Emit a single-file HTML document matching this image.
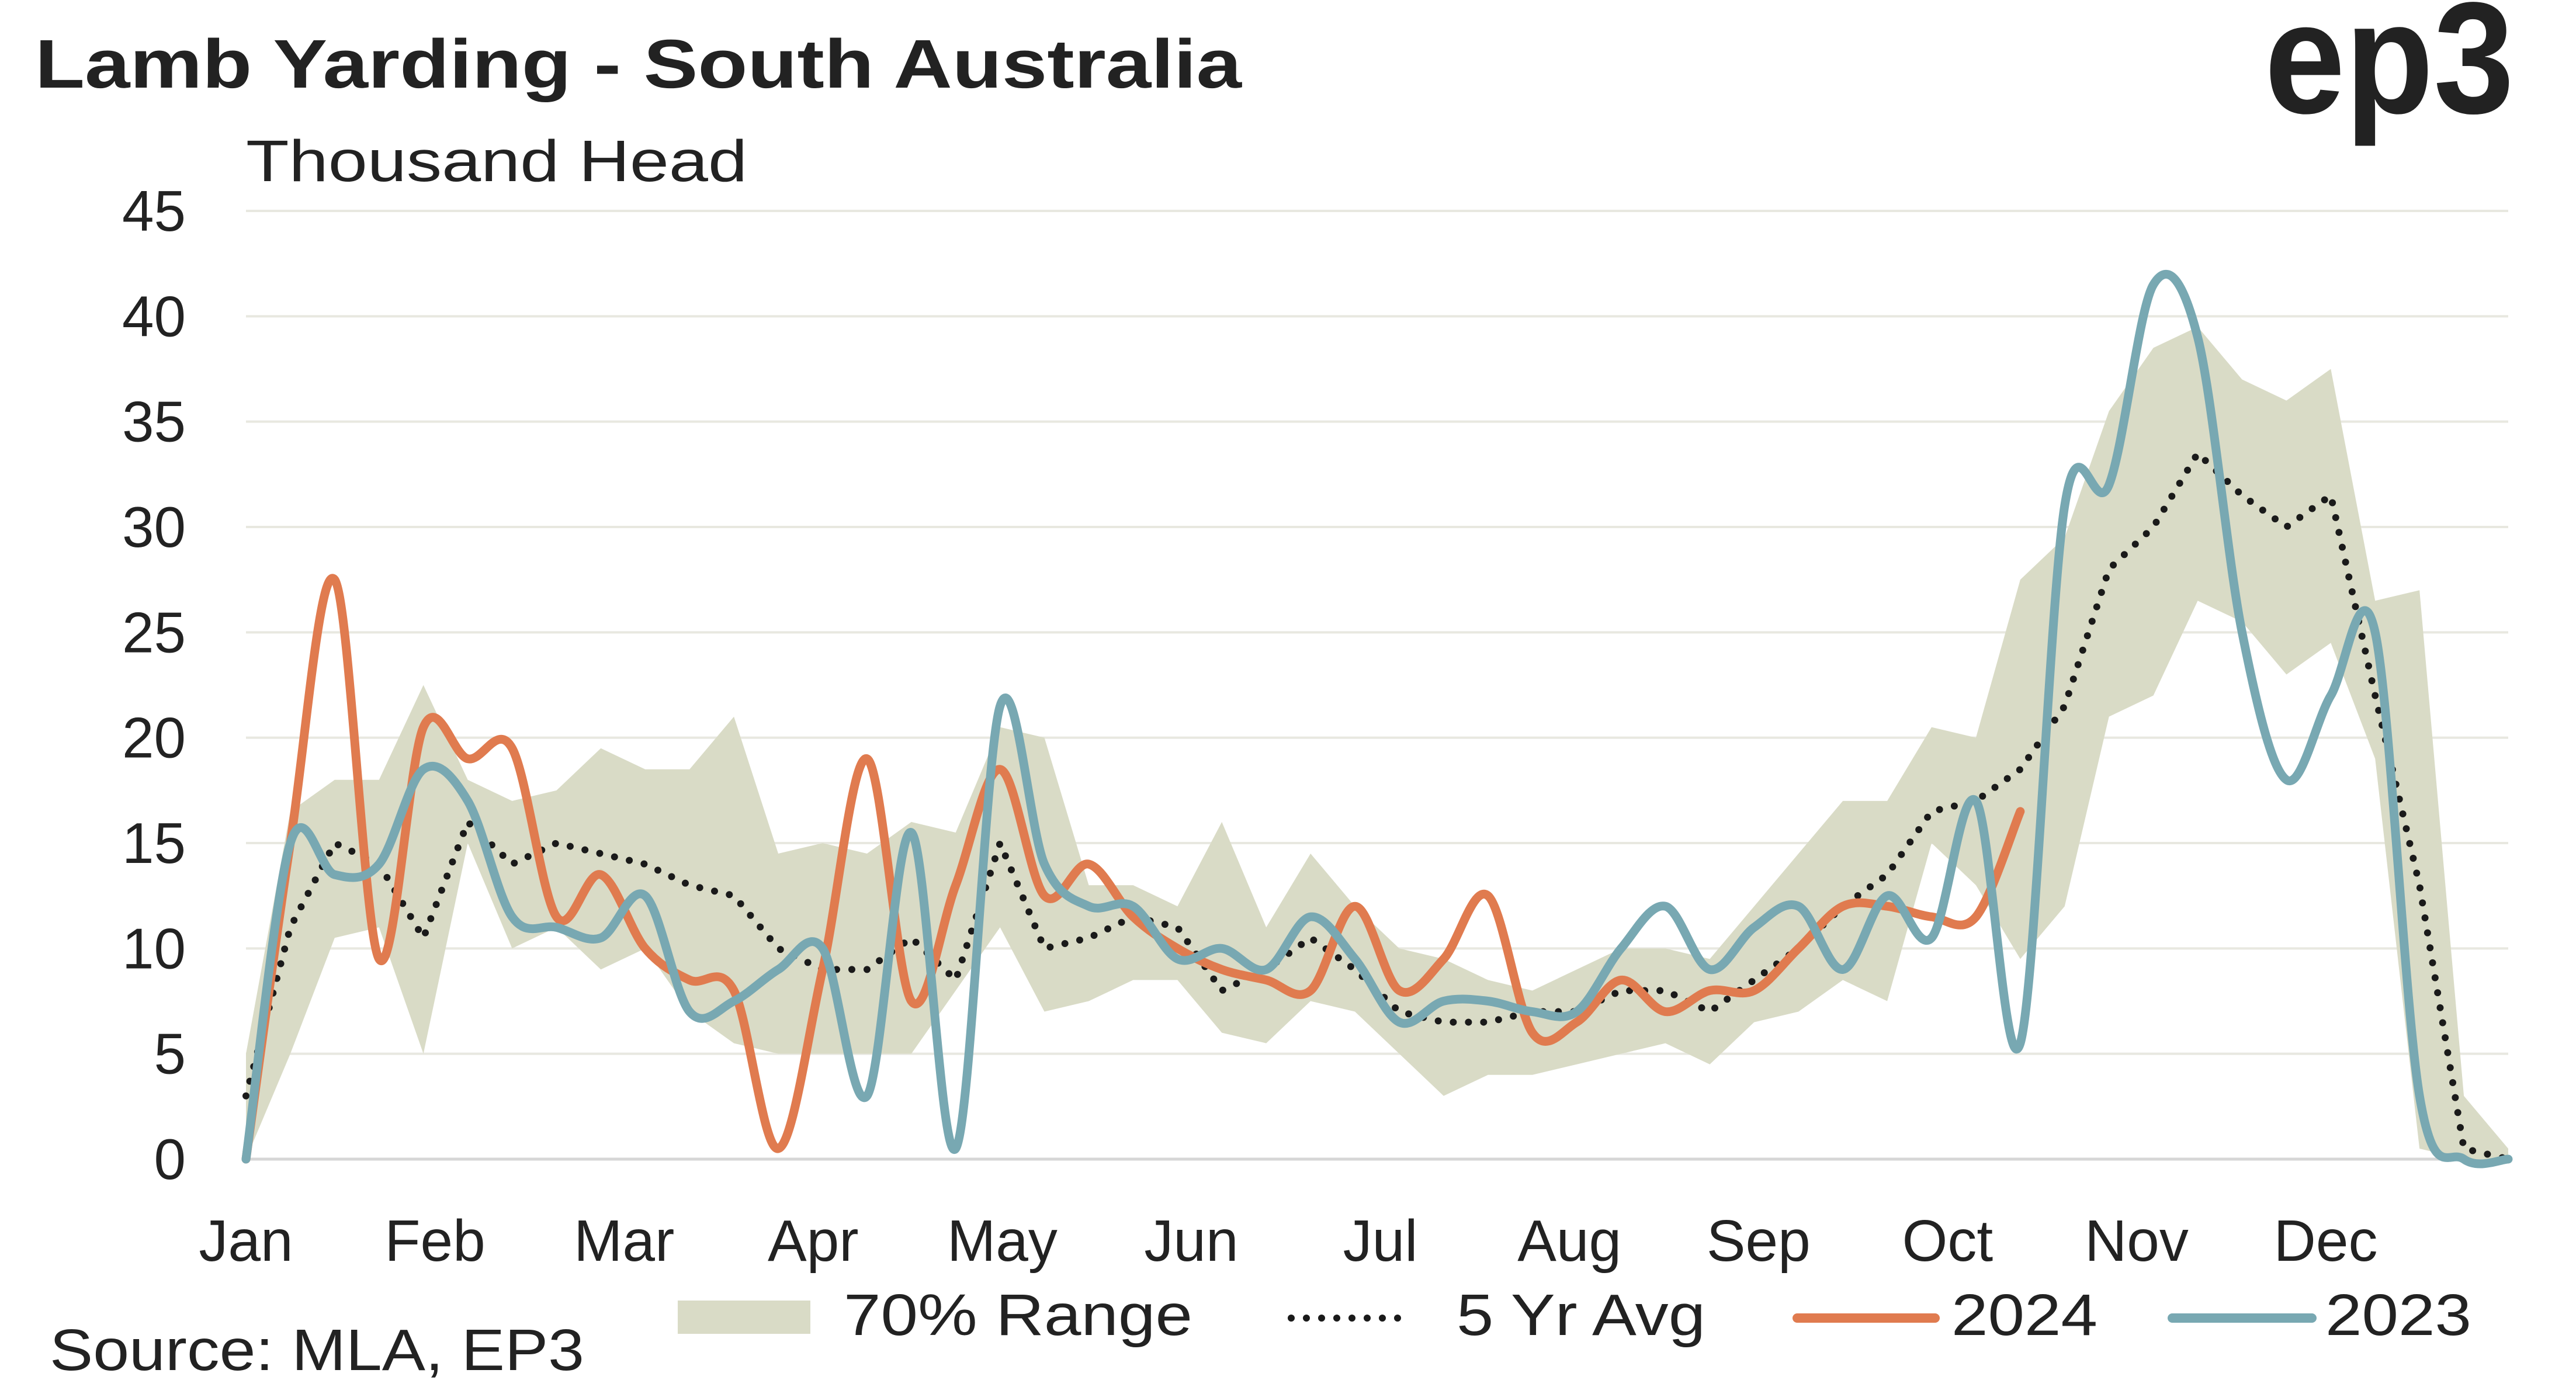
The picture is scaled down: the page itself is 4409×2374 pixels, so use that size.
<!DOCTYPE html>
<html><head><meta charset="utf-8"><style>
html,body{margin:0;padding:0;background:#fff;}
svg{display:block;}
text{font-family:"Liberation Sans",sans-serif;fill:#222;}
</style></head><body>
<svg id="chart" width="4409" height="2374" viewBox="0 0 4409 2374">
<text x="60" y="150" font-size="118" font-weight="bold" fill="#1e1e1e" textLength="2065" lengthAdjust="spacingAndGlyphs">Lamb Yarding - South Australia</text>
<text x="3876" y="193" font-size="272" font-weight="bold" textLength="427" lengthAdjust="spacingAndGlyphs" fill="#2b2b2b">ep3</text>
<text x="421" y="310" font-size="100" fill="#2a2a2a" textLength="858" lengthAdjust="spacingAndGlyphs">Thousand Head</text>
<g id="grid"></g>
<g id="marks"></g>
<g id="xlabels"></g>
<g>
<rect x="1160" y="2226" width="227" height="57" fill="#d9dbc6"/>
<text x="1444" y="2285" font-size="100" textLength="597" lengthAdjust="spacingAndGlyphs">70% Range</text>
<line x1="2210" y1="2256" x2="2417" y2="2256" stroke="#1a1a1a" stroke-width="12" stroke-linecap="round" stroke-dasharray="0 26"/>
<text x="2493" y="2285" font-size="100" textLength="426" lengthAdjust="spacingAndGlyphs">5 Yr Avg</text>
<line x1="3076" y1="2256" x2="3312" y2="2256" stroke="#e07b4f" stroke-width="16" stroke-linecap="round"/>
<text x="3340" y="2285" font-size="100" textLength="250" lengthAdjust="spacingAndGlyphs">2024</text>
<line x1="3718" y1="2256" x2="3957" y2="2256" stroke="#78a8b2" stroke-width="16" stroke-linecap="round"/>
<text x="3980" y="2285" font-size="100" textLength="250" lengthAdjust="spacingAndGlyphs">2023</text>
</g>
<text x="85" y="2345" font-size="100" textLength="915" lengthAdjust="spacingAndGlyphs">Source: MLA, EP3</text>
</svg>
<script>
const months = ["Jan","Feb","Mar","Apr","May","Jun","Jul","Aug","Sep","Oct","Nov","Dec"];
const yTicks = [0,5,10,15,20,25,30,35,40,45];
const rangeLow = [0,5,10.5,11,5,15,10,11,9,10,7,5.5,5,5,5,5,8,11,7,7.5,8.5,8.5,6,5.5,7.5,7,5,3,4,4,4.5,5,5.5,4.5,6.5,7,8.5,7.5,15,13,9.5,12,21,22,26.5,25.5,23,24.5,19,0.5,0,0];
const rangeHigh = [5,16.5,18,18,22.5,18,17,17.5,19.5,18.5,18.5,21,14.5,15,14.5,16,15.5,20.5,20,13,13,12,16,11,14.5,12,10,9.5,8.5,8,9,10,10,9.5,12,14.5,17,17,20.5,20,27.5,29.5,35.5,38.5,39.5,37,36,37.5,26.5,27,3,0.5];
const avg5 = [3,11,15,14,10.5,16,14,15,14.5,14,13,12.5,10,9,9,10.5,8.5,15,10,10.5,11.5,11,8,9,10.5,9,7,6.5,6.5,7,7,8,8,7,8.5,10,12,13.5,16.5,17,18.5,21.5,28,30,33.5,31.5,30,31.5,22,13,0.5,0];
const y2024 = [0,15,27.5,9.5,20.5,19,19.5,11.5,13.5,10,8.5,8,0.5,9,19,7.5,13,18.5,12.5,14,11.5,10,9,8.5,8,12,8,9.5,12.5,6,6.5,8.5,7,8,8,10,12,12,11.5,11.5,16.5];
const y2023 = [0,15,13.5,14,18.5,17,11.5,11,10.5,12.5,7,7.5,9,10,3,15.5,0.5,21.5,14,12,12,9.5,10,9,11.5,9.5,6.5,7.5,7.5,7,7,10,12,9,11,12,9,12.5,10.5,17,5.5,31,32,41.5,39,25,18,22,25,3,0,0];

const X0=421,X1=4293,Y0=1984,Y45=361,N=52;
const xs=i=>X0+(X1-X0)*i/(N-1);
const ys=v=>Y0-(Y0-Y45)*v/45;
const NS="http://www.w3.org/2000/svg";
function mk(tag,attrs,parent){const e=document.createElementNS(NS,tag);for(const k in attrs)e.setAttribute(k,attrs[k]);parent.appendChild(e);return e;}
const grid=document.getElementById('grid'),marks=document.getElementById('marks'),xl=document.getElementById('xlabels');
yTicks.forEach(t=>{
  const l=mk('line',{x1:X0,x2:X1,y1:ys(t),y2:ys(t),stroke:t===0?'#d6d6d6':'#e8e8e0','stroke-width':t===0?5:4},grid);
  
  
  const tx=mk('text',{x:318,y:ys(t)+34,'font-size':98,'text-anchor':'end'},grid);
  tx.textContent=t;
  
  
});
months.forEach((m,i)=>{
  const tx=mk('text',{x:X0+i*323.6,y:2158,'font-size':100,'text-anchor':'middle'},xl);
  tx.textContent=m;
  
  
});
let pts=rangeHigh.map((v,i)=>xs(i)+','+ys(v));
for(let i=rangeLow.length-1;i>=0;i--)pts.push(xs(i)+','+ys(rangeLow[i]));
const poly=mk('polygon',{points:pts.join(' '),fill:'#d9dbc6'},marks);


const avgL=mk('polyline',{points:avg5.map((v,i)=>xs(i)+','+ys(v)).join(' '),fill:'none',stroke:'#1a1a1a','stroke-width':12,'stroke-linecap':'round','stroke-dasharray':'0 26'},marks);


function smooth(arr){
  const p=arr.map((v,i)=>[xs(i),ys(v)]);
  let d='M'+p[0][0]+','+p[0][1];
  for(let i=0;i<p.length-1;i++){
    const p0=p[Math.max(0,i-1)],p1=p[i],p2=p[i+1],p3=p[Math.min(p.length-1,i+2)];
    const c1=[p1[0]+(p2[0]-p0[0])/6,p1[1]+(p2[1]-p0[1])/6];
    const c2=[p2[0]-(p3[0]-p1[0])/6,p2[1]-(p3[1]-p1[1])/6];
    d+=' C'+c1+' '+c2+' '+p2;
  }
  return d;
}
const l24=mk('path',{d:smooth(y2024),fill:'none',stroke:'#e07b4f','stroke-width':15,'stroke-linejoin':'round','stroke-linecap':'round'},marks);


const l23=mk('path',{d:smooth(y2023),fill:'none',stroke:'#78a8b2','stroke-width':15,'stroke-linejoin':'round','stroke-linecap':'round'},marks);


</script>
</body></html>
